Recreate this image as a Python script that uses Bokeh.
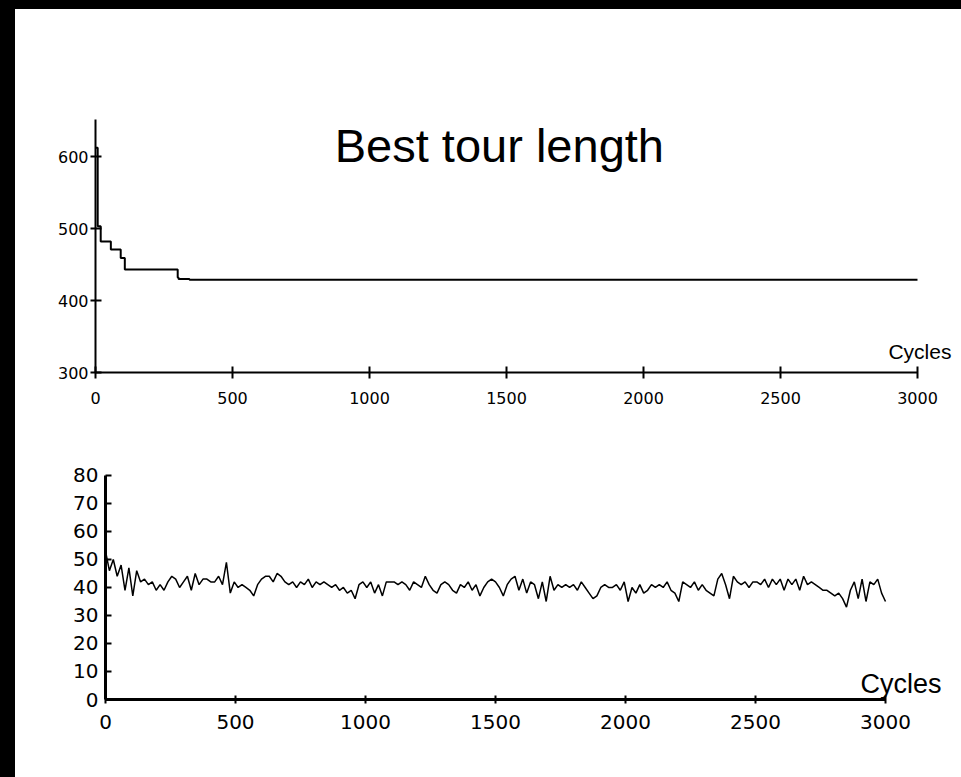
from bokeh.plotting import figure
from bokeh.models import Range1d, FixedTicker, Label, Spacer
from bokeh.layouts import row, column
from bokeh.embed import file_html
from bokeh.resources import INLINE

# ---------------- data ----------------
title_text = "Best tour length"
x_label = "Cycles"

best_cycles = [0, 8, 19, 56, 92, 107, 300, 303, 343, 3000]
best_len = [612, 503, 482, 471, 459, 443, 432, 430, 429, 429]
best_xticks = [0, 500, 1000, 1500, 2000, 2500, 3000]
best_yticks = [300, 400, 500, 600]

ga_values = [
    53, 46, 50, 44, 48, 39, 47,
    37, 46, 42, 43, 41, 42, 39,
    41, 39, 42, 44, 43, 40, 42,
    44, 39, 45, 41, 43, 43, 42,
    42, 44, 41, 49, 38, 42, 40,
    41, 40, 39, 37, 41, 43, 44,
    44, 42, 45, 44, 42, 41, 42,
    40, 42, 41, 43, 40, 42, 41,
    42, 41, 40, 41, 39, 40, 38,
    39, 36, 41, 42, 40, 42, 38,
    41, 37, 42, 42, 42, 41, 42,
    41, 39, 42, 41, 40, 44, 41,
    39, 38, 41, 42, 41, 39, 38,
    41, 40, 42, 39, 41, 37, 40,
    42, 43, 42, 40, 37, 41, 43,
    44, 39, 43, 38, 42, 41, 36,
    42, 35, 44, 39, 41, 40, 41,
    40, 41, 39, 42, 40, 38, 36,
    37, 40, 41, 40, 40, 41, 39,
    42, 35, 40, 38, 41, 38, 39,
    41, 40, 41, 40, 42, 39, 38,
    35, 42, 41, 40, 42, 39, 41,
    39, 38, 37, 43, 45, 41, 36,
    44, 42, 41, 42, 40, 42, 42,
    41, 43, 40, 43, 41, 43, 39,
    43, 41, 43, 39, 44, 41, 42,
    41, 40, 39, 39, 38, 37, 38,
    36, 33, 39, 42, 36, 43, 35,
    42, 41, 43, 38, 35,
]
ga_cycles = list(range(0, 3001, 15))
ga_xticks = [0, 500, 1000, 1500, 2000, 2500, 3000]
ga_yticks = [0, 10, 20, 30, 40, 50, 60, 70, 80]

TICK_FONT = "DejaVu Sans"
TEXT_FONT = "Liberation Sans"


def base_axes(p):
    p.grid.visible = False
    p.outline_line_color = None
    p.background_fill_color = "white"
    p.border_fill_color = "white"
    for ax in (p.xaxis[0], p.yaxis[0]):
        ax.axis_line_color = "black"
        ax.major_tick_line_color = "black"
        ax.minor_tick_line_color = None
        ax.major_label_text_color = "black"
        ax.major_label_text_font = TICK_FONT


# ---------------- top chart ----------------
f1 = figure(width=946, height=429,
            x_range=Range1d(0, 3160.6), y_range=Range1d(300, 804.2),
            output_backend="svg", toolbar_location=None,
            min_border_left=80, min_border_right=0,
            min_border_top=0, min_border_bottom=66)
f1.frame_align = False
base_axes(f1)
f1.step(best_cycles, best_len, mode="after", line_color="black", line_width=2)

xa = f1.xaxis[0]
xa.ticker = FixedTicker(ticks=best_xticks)
xa.bounds = (0, 3000)
xa.axis_line_width = 2
xa.major_tick_line_width = 2
xa.major_tick_in = 6
xa.major_tick_out = 6
xa.major_label_standoff = 13
xa.major_label_text_font_size = "16px"

ya = f1.yaxis[0]
ya.ticker = FixedTicker(ticks=best_yticks)
ya.bounds = (300, 652)
ya.axis_line_width = 2
ya.major_tick_line_width = 2
ya.major_tick_in = 6
ya.major_tick_out = 5
ya.major_label_standoff = 2
ya.major_label_text_font_size = "16px"

f1.add_layout(Label(x=1474, y=615, text=title_text, text_font=TEXT_FONT,
                    text_font_size="47px", text_align="center",
                    text_baseline="alphabetic", text_color="black"))
f1.add_layout(Label(x=2894, y=329, text=x_label, text_font=TEXT_FONT,
                    text_font_size="21px", text_align="left",
                    text_baseline="alphabetic", text_color="black"))

# ---------------- bottom chart ----------------
f2 = figure(width=946, height=339,
            x_range=Range1d(0, 3292.3), y_range=Range1d(0, 93.2),
            output_backend="svg", toolbar_location=None,
            min_border_left=90, min_border_right=0,
            min_border_top=0, min_border_bottom=78)
f2.frame_align = False
base_axes(f2)
f2.line(ga_cycles, ga_values, line_color="black", line_width=1.5)

xb = f2.xaxis[0]
xb.ticker = FixedTicker(ticks=ga_xticks)
xb.bounds = (0, 3000)
xb.axis_line_width = 3
xb.major_tick_line_width = 2
xb.major_tick_in = 4
xb.major_tick_out = 4
xb.major_label_standoff = 11
xb.major_label_text_font_size = "20px"

yb = f2.yaxis[0]
yb.ticker = FixedTicker(ticks=ga_yticks)
yb.bounds = (0, 80)
yb.axis_line_width = 3
yb.major_tick_line_width = 2
yb.major_tick_in = 6
yb.major_tick_out = 0
yb.major_label_standoff = 7
yb.major_label_text_font_size = "20px"

f2.add_layout(Label(x=2904, y=5.7, text=x_label, text_font=TEXT_FONT,
                    text_font_size="27px", text_align="left",
                    text_baseline="alphabetic", text_color="black"))

top_band = Spacer(width=961, height=9, styles={"background-color": "black"})
left_band = Spacer(width=15, height=768, styles={"background-color": "black"})
layout = column(top_band, row(left_band, column(f1, f2)))

open("out.html", "w").write(file_html(layout, INLINE))
